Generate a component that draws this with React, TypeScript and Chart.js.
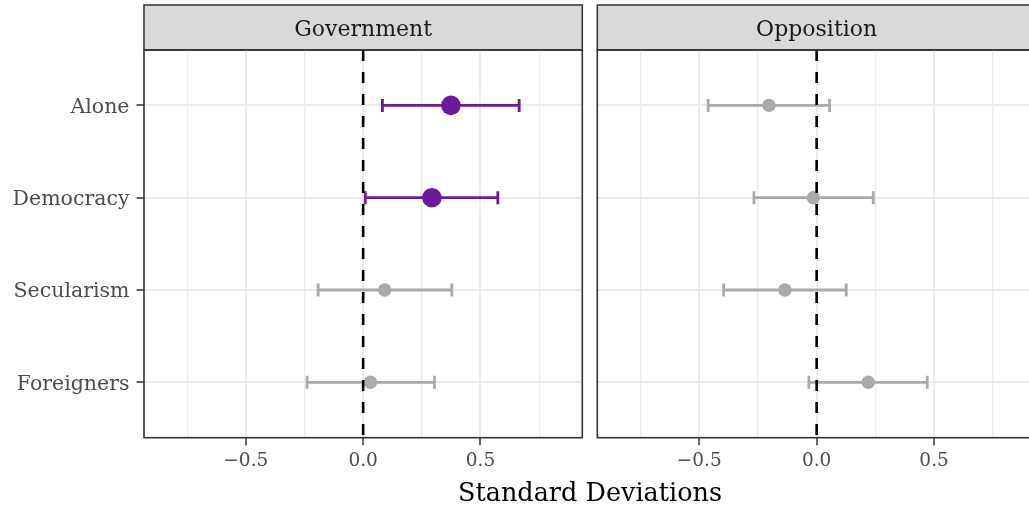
import React, { useEffect, useRef } from 'react';
import { Chart, registerables } from 'chart.js';

Chart.register(...registerables);

const categories = ['Alone', 'Democracy', 'Secularism', 'Foreigners'];

const govEstimate = [0.374, 0.293, 0.092, 0.031];
const govLower = [0.082, 0.009, -0.192, -0.239];
const govUpper = [0.665, 0.574, 0.378, 0.304];

const oppEstimate = [-0.203, -0.014, -0.135, 0.22];
const oppLower = [-0.462, -0.267, -0.396, -0.033];
const oppUpper = [0.055, 0.241, 0.126, 0.471];

const xTicks = [-0.75, -0.5, -0.25, 0, 0.25, 0.5, 0.75];
const xTickLabels = ['', '\u22120.5', '', '0.0', '', '0.5', ''];
const xMajor = [false, true, false, true, false, true, false];

const panelTitles = ['Government', 'Opposition'];
const axisTitle = 'Standard Deviations';

const FONT = '"DejaVu Serif", serif';
const SIG_COLOR = '#6a1b9a';
const NS_COLOR = '#aaaaaa';

const panelPlugin = {
  id: 'panelDeco',
  beforeDraw(chart: any, _args: any, opts: any) {
    const { ctx, chartArea } = chart;
    const { left, right } = chartArea;
    ctx.save();
    ctx.fillStyle = '#d9d9d9';
    ctx.fillRect(left, 5, right - left, 45);
    ctx.strokeStyle = '#333333';
    ctx.lineWidth = 1.5;
    ctx.strokeRect(left, 5, right - left, 45);
    ctx.fillStyle = '#1a1a1a';
    ctx.font = '22px ' + FONT;
    ctx.textAlign = 'center';
    ctx.textBaseline = 'alphabetic';
    ctx.fillText(opts.title, (left + right) / 2, 36);
    ctx.restore();
  },
  afterDraw(chart: any) {
    const { ctx, chartArea } = chart;
    ctx.save();
    ctx.strokeStyle = '#333333';
    ctx.lineWidth = 1.6;
    ctx.strokeRect(chartArea.left, chartArea.top, chartArea.right - chartArea.left, chartArea.bottom - chartArea.top);
    ctx.restore();
  },
};

function makeConfig(title: string, est: number[], lo: number[], hi: number[], showY: boolean, padLeft: number, padRight: number): any {
  const colorOf = (i: number) => (lo[i] > 0 || hi[i] < 0 ? SIG_COLOR : NS_COLOR);
  const radiusOf = (i: number) => (lo[i] > 0 || hi[i] < 0 ? 9.8 : 6.7);
  const bars = categories.map((_, i) => ({
    type: 'line',
    data: [
      { x: lo[i], y: i + 1 },
      { x: hi[i], y: i + 1 },
    ],
    borderColor: colorOf(i),
    borderWidth: 2.8,
    pointStyle: 'line',
    pointRotation: 90,
    pointRadius: 6.5,
    pointBorderWidth: 2.8,
    pointBorderColor: colorOf(i),
    pointBackgroundColor: colorOf(i),
    order: 2,
  }));
  return {
    type: 'scatter',
    data: {
      datasets: [
        {
          type: 'line',
          data: [
            { x: 0, y: 0.4 },
            { x: 0, y: 4.6 },
          ],
          borderColor: '#000000',
          borderWidth: 2.6,
          borderDash: [11, 11],
          pointRadius: 0,
          order: 0,
        },
        {
          type: 'scatter',
          data: est.map((v, i) => ({ x: v, y: i + 1 })),
          backgroundColor: categories.map((_, i) => colorOf(i)),
          pointRadius: categories.map((_, i) => radiusOf(i)),
          borderWidth: 0,
          order: 1,
        },
        ...bars,
      ],
    },
    options: {
      animation: false,
      responsive: false,
      events: [],
      layout: { autoPadding: false, padding: { left: padLeft, right: padRight, top: 50, bottom: 0 } },
      plugins: {
        legend: { display: false },
        tooltip: { enabled: false },
        panelDeco: { title },
      },
      scales: {
        x: {
          type: 'linear',
          min: -0.934,
          max: 0.934,
          afterBuildTicks: (s: any) => {
            s.ticks = xTicks.map((v) => ({ value: v }));
          },
          afterFit: (s: any) => {
            s.height = 70.3;
            s.paddingLeft = 0;
            s.paddingRight = 0;
          },
          border: { display: false },
          grid: {
            color: '#ebebeb',
            lineWidth: (ctx: any) => (xMajor[ctx.index] ? 2 : 1.2),
            drawTicks: true,
            tickLength: 7.5,
            tickWidth: 1.5,
            tickColor: (ctx: any) => (xMajor[ctx.index] ? '#333333' : 'rgba(0,0,0,0)'),
          },
          ticks: {
            autoSkip: false,
            maxRotation: 0,
            padding: 5,
            color: '#4d4d4d',
            font: { family: FONT, size: 18.5 },
            callback: (_v: any, i: number) => xTickLabels[i],
          },
        },
        y: {
          type: 'linear',
          reverse: true,
          min: 0.4,
          max: 4.6,
          afterBuildTicks: (s: any) => {
            s.ticks = categories.map((_, i) => ({ value: i + 1 }));
          },
          afterFit: (s: any) => {
            s.width = showY ? 144 : 0;
            s.paddingTop = 0;
            s.paddingBottom = 0;
          },
          border: { display: false },
          grid: {
            color: '#ebebeb',
            lineWidth: 2,
            drawTicks: showY,
            tickLength: 7.5,
            tickWidth: 1.5,
            tickColor: '#333333',
          },
          ticks: {
            display: showY,
            autoSkip: false,
            padding: 7,
            labelOffset: 2,
            color: '#4d4d4d',
            font: { family: FONT, size: 20.5 },
            callback: (_v: any, i: number) => categories[i],
          },
        },
      },
    },
    plugins: [panelPlugin],
  };
}

export default function App() {
  const ref1 = useRef<HTMLCanvasElement>(null);
  const ref2 = useRef<HTMLCanvasElement>(null);

  useEffect(() => {
    const c1 = new Chart(ref1.current as HTMLCanvasElement, makeConfig(panelTitles[0], govEstimate, govLower, govUpper, true, 0, 7.7));
    const c2 = new Chart(ref2.current as HTMLCanvasElement, makeConfig(panelTitles[1], oppEstimate, oppLower, oppUpper, false, 7.3, 4));
    return () => {
      c1.destroy();
      c2.destroy();
    };
  }, []);

  return (
    <div style={{ position: 'absolute', left: 0, top: 0, width: 1029, height: 508, overflow: 'hidden', background: '#ffffff' }}>
      <canvas ref={ref1} width={590} height={508} style={{ position: 'absolute', left: 0, top: 0, display: 'block' }} />
      <canvas ref={ref2} width={450} height={508} style={{ position: 'absolute', left: 590, top: 0, display: 'block' }} />
      <div
        style={{
          position: 'absolute',
          left: 290,
          width: 600,
          top: 478,
          textAlign: 'center',
          fontFamily: FONT,
          fontSize: 25.5,
          lineHeight: '29px',
          color: '#000000',
          whiteSpace: 'nowrap',
        }}
      >
        {axisTitle}
      </div>
    </div>
  );
}
